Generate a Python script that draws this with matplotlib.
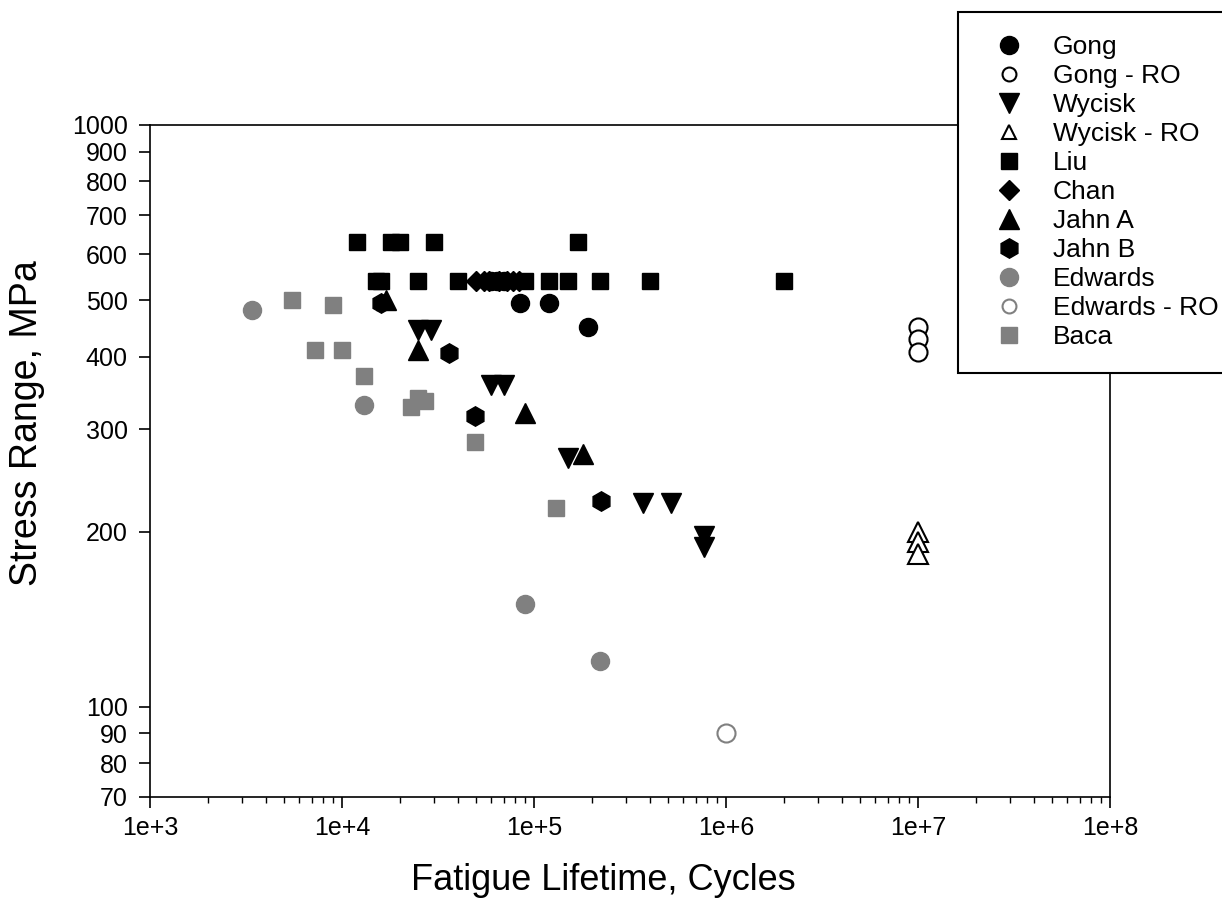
import math
import matplotlib
matplotlib.use("Agg")
import matplotlib.pyplot as plt
from matplotlib.ticker import FixedLocator, FuncFormatter, NullFormatter, LogLocator

plt.rcParams['font.family'] = ['Liberation Sans', 'DejaVu Sans']

GRAY = '#808080'

# fatigue lifetime (cycles) and stress range (MPa) per data source
gong_n = [60000, 64000, 70000, 85000, 120000, 190000]
gong_s = [540, 540, 540, 495, 495, 450]

gong_ro_n = [1e7, 1e7, 1e7]
gong_ro_s = [450, 428, 407]

wycisk_n = [25000, 29000, 60000, 70000, 150000, 370000, 520000, 770000, 770000]
wycisk_s = [445, 445, 358, 358, 268, 224, 224, 197, 188]

wycisk_ro_n = [1e7, 1e7, 1e7]
wycisk_ro_s = [200, 192, 183]

liu_n = [12000, 18000, 20000, 30000, 170000,
         15000, 16000, 25000, 40000, 90000, 120000, 150000, 220000, 400000, 2000000]
liu_s = [630, 630, 630, 630, 630,
         540, 540, 540, 540, 540, 540, 540, 540, 540, 540]

chan_n = [50000, 55000, 58000, 66000, 72000, 78000, 84000]
chan_s = [540, 540, 540, 540, 540, 540, 540]

jahn_a_n = [17000, 25000, 90000, 180000]
jahn_a_s = [500, 410, 320, 272]

jahn_b_n = [16000, 36000, 49000, 223000]
jahn_b_s = [495, 405, 316, 226]

edwards_n = [3400, 13000, 90000, 220000]
edwards_s = [480, 330, 150, 120]

edwards_ro_n = [1e6]
edwards_ro_s = [90]

baca_n = [5500, 9000, 7200, 10000, 13000, 23000, 25000, 27000, 49000, 130000]
baca_s = [500, 490, 410, 410, 370, 328, 340, 336, 285, 220]

W, H = 1222, 907
fig = plt.figure(figsize=(W/100, H/100), dpi=100)
ax = fig.add_axes([150/W, 1-797/H, 960/W, 672/H])

ax.plot(gong_n, gong_s, 'o', ms=13, color='black', mec='black', label='Gong')
ax.plot(gong_ro_n, gong_ro_s, 'o', ms=13, mfc='white', mec='black', mew=1.5, label='Gong - RO')
ax.plot(wycisk_n, wycisk_s, 'v', ms=14, color='black', label='Wycisk')
ax.plot(wycisk_ro_n, wycisk_ro_s, '^', ms=14, mfc='white', mec='black', mew=1.5, label='Wycisk - RO')
ax.plot(liu_n, liu_s, 's', ms=11.5, color='black', label='Liu')
ax.plot(chan_n, chan_s, 'D', ms=10.5, color='black', label='Chan')
ax.plot(jahn_a_n, jahn_a_s, '^', ms=14, color='black', label='Jahn A')
ax.plot(jahn_b_n, jahn_b_s, 'h', ms=14, color='black', label='Jahn B')
ax.plot(edwards_n, edwards_s, 'o', ms=13, color=GRAY, mec=GRAY, label='Edwards')
ax.plot(edwards_ro_n, edwards_ro_s, 'o', ms=13, mfc='white', mec=GRAY, mew=1.5, label='Edwards - RO')
ax.plot(baca_n, baca_s, 's', ms=11.5, color=GRAY, mec=GRAY, label='Baca')

ax.set_xscale('log')
ax.set_yscale('log')
ax.set_xlim(1e3, 1e8)
ax.set_ylim(70, 1000)

ax.xaxis.set_major_locator(FixedLocator([1e3, 1e4, 1e5, 1e6, 1e7, 1e8]))
ax.xaxis.set_major_formatter(FuncFormatter(lambda v, p: '1e+%d' % round(math.log10(v))))
ax.xaxis.set_minor_locator(LogLocator(base=10, subs=range(2, 10), numticks=20))
ax.xaxis.set_minor_formatter(NullFormatter())

yt = [70, 80, 90, 100, 200, 300, 400, 500, 600, 700, 800, 900, 1000]
ax.yaxis.set_major_locator(FixedLocator(yt))
ax.yaxis.set_major_formatter(FuncFormatter(lambda v, p: '%d' % v))
ax.yaxis.set_minor_locator(FixedLocator([]))
ax.yaxis.set_minor_formatter(NullFormatter())

ax.tick_params(which='major', direction='out', length=8, width=1.2, labelsize=18, pad=6)
ax.tick_params(axis='y', which='major', pad=8)
ax.tick_params(which='minor', direction='out', length=4, width=1.0)
for sp in ax.spines.values():
    sp.set_linewidth(1.2)

fig.text(603/W, 1-880/H, 'Fatigue Lifetime, Cycles', fontsize=26, ha='center', va='center')
fig.text(27/W, 1-423/H, 'Stress Range, MPa', fontsize=27, ha='center', va='center', rotation=90)

leg = fig.legend(loc='upper left', bbox_to_anchor=(958/W, 1-12/H), frameon=True,
                 fancybox=False, edgecolor='black', fontsize=19, labelspacing=0.19,
                 handletextpad=0.65, borderpad=0.88, handlelength=2.07, numpoints=1,
                 markerscale=1.0, borderaxespad=0)
leg.get_frame().set_linewidth(1.5)
leg.get_frame().set_alpha(1)
for i in (1, 3, 9):
    leg.legend_handles[i].set_markersize(10)

fig.savefig('out.png', dpi=100)
